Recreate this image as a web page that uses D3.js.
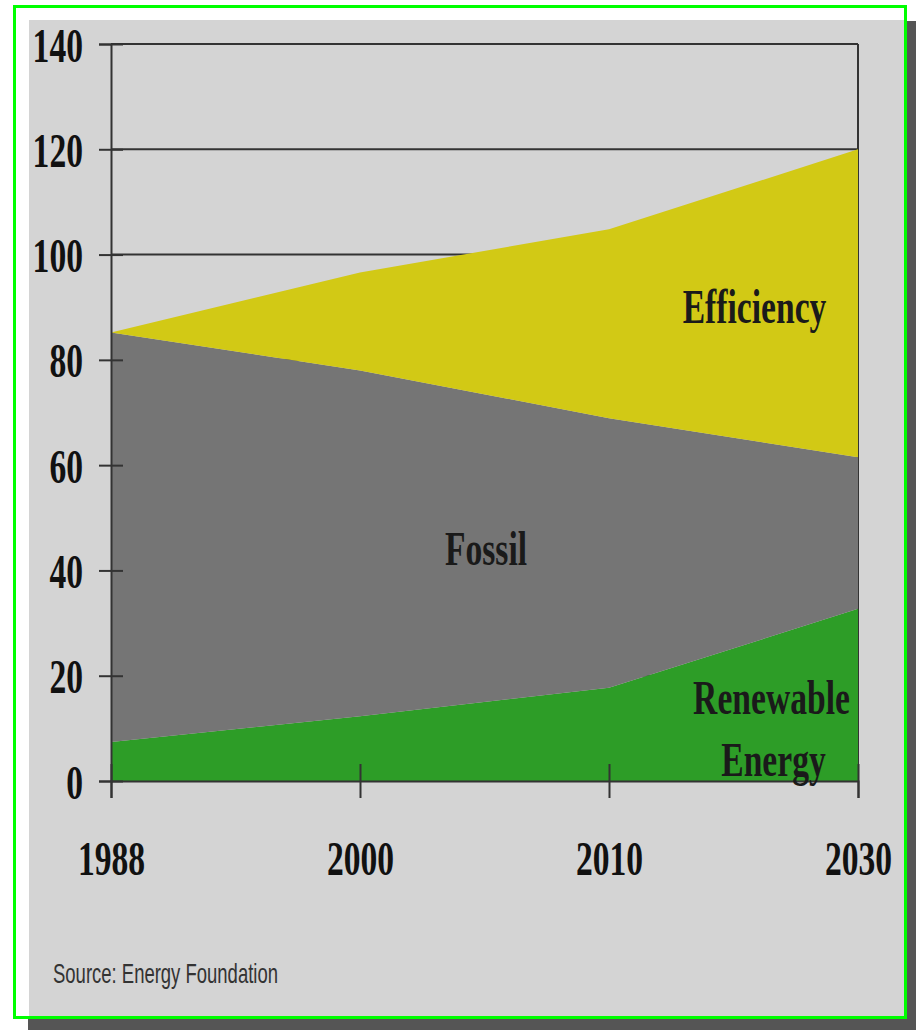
<!DOCTYPE html>
<html>
<head>
<meta charset="utf-8">
<script src="https://cdn.jsdelivr.net/npm/d3@7"></script>
<style>
  html, body { margin: 0; padding: 0; background: #ffffff; }
  svg { display: block; }
</style>
</head>
<body>
<div id="chart"></div>
<script>
// ---- data ----
const categories = ["1988", "2000", "2010", "2030"];
const renewable  = [7.4, 12.3, 17.7, 32.7];
const fossil     = [77.8, 65.7, 51.2, 28.8];
const efficiency = [0, 18.6, 35.9, 58.5];
const seriesKeys = ["renewable", "fossil", "efficiency"];
const yTicks     = [0, 20, 40, 60, 80, 100, 120, 140];
const sourceText = "Source: Energy Foundation";

// ---- layout ----
const W = 916, H = 1030;
const plot = { left: 111, right: 858, top: 44, bottom: 781 };
const colors = { renewable: "#2d9d27", fossil: "#757575", efficiency: "#d2c915" };

const svg = d3.select("#chart").append("svg").attr("width", W).attr("height", H);

// frame: shadow, panel, green border
svg.append("rect").attr("x", 28).attr("y", 21).attr("width", W - 28).attr("height", H - 21).attr("fill", "#555555");
svg.append("rect").attr("x", 0).attr("y", 0).attr("width", 907).attr("height", 1019).attr("fill", "#ffffff");
svg.append("rect").attr("x", 29).attr("y", 20).attr("width", 877).attr("height", 998).attr("fill", "#d4d4d4");
svg.append("rect").attr("x", 14.5).attr("y", 6.5).attr("width", 891).attr("height", 1011)
  .attr("fill", "none").attr("stroke", "#00ff00").attr("stroke-width", 3);

const table = categories.map((c, i) => ({
  cat: c, renewable: renewable[i], fossil: fossil[i], efficiency: efficiency[i]
}));

const x = d3.scalePoint().domain(categories).range([plot.left, plot.right]);
const y = d3.scaleLinear().domain([0, 140]).range([plot.bottom, plot.top]);

// gridlines
svg.append("g").selectAll("line").data(yTicks).join("line")
  .attr("x1", plot.left).attr("x2", plot.right)
  .attr("y1", d => y(d)).attr("y2", d => y(d))
  .attr("stroke", "#333").attr("stroke-width", 2);
// right plot border
svg.append("line").attr("x1", plot.right).attr("x2", plot.right)
  .attr("y1", plot.top).attr("y2", plot.bottom)
  .attr("stroke", "#333").attr("stroke-width", 2);

// stacked areas
const stacked = d3.stack().keys(seriesKeys)(table);
const area = d3.area()
  .x(d => x(d.data.cat))
  .y0(d => y(d[0]))
  .y1(d => y(d[1]));
svg.append("g").selectAll("path").data(stacked).join("path")
  .attr("d", area)
  .attr("fill", d => colors[d.key]);

// axes
const yAxis = d3.axisLeft(y).tickValues(yTicks).tickSize(12).tickPadding(17).tickFormat(d3.format("d"));
const gy = svg.append("g").attr("transform", `translate(${plot.left},0)`).call(yAxis);
gy.select(".domain").attr("stroke", "#333").attr("stroke-width", 2);
gy.selectAll(".tick line").attr("x1", 12).attr("x2", -12).attr("stroke", "#333").attr("stroke-width", 2);
gy.selectAll(".tick text")
  .attr("x", null).attr("dy", null)
  .attr("transform", "translate(-28,17) scale(0.7,1)")
  .attr("text-anchor", "end")
  .attr("fill", "#111")
  .style("font-family", "'Liberation Serif', 'Times New Roman', serif")
  .style("font-weight", "bold")
  .style("font-size", "48px");

const xAxis = d3.axisBottom(x).tickSize(17).tickPadding(0);
const gx = svg.append("g").attr("transform", `translate(0,${plot.bottom})`).call(xAxis);
gx.select(".domain").attr("stroke", "#333").attr("stroke-width", 2);
gx.selectAll(".tick line").attr("y1", -17).attr("y2", 17).attr("stroke", "#333").attr("stroke-width", 2);
gx.selectAll(".tick text")
  .attr("y", null).attr("dy", null)
  .attr("transform", "translate(0,94) scale(0.7,1)")
  .attr("text-anchor", "middle")
  .attr("fill", "#111")
  .style("font-family", "'Liberation Serif', 'Times New Roman', serif")
  .style("font-weight", "bold")
  .style("font-size", "48px");

// area labels
const labels = [
  { text: "Efficiency", x: 754.5, y: 323 },
  { text: "Fossil", x: 486, y: 565 },
  { text: "Renewable", x: 771.5, y: 714 },
  { text: "Energy", x: 773.5, y: 776 }
];
svg.append("g").selectAll("text").data(labels).join("text")
  .attr("transform", d => `translate(${d.x},${d.y}) scale(0.7,1)`)
  .attr("text-anchor", "middle")
  .attr("fill", "#1a1a1a")
  .style("font-family", "'Liberation Serif', 'Times New Roman', serif")
  .style("font-weight", "bold")
  .style("font-size", "48px")
  .text(d => d.text);

// source
svg.append("text")
  .attr("transform", "translate(53,983) scale(0.66,1)")
  .attr("fill", "#333")
  .style("font-family", "'Liberation Sans', Arial, sans-serif")
  .style("font-size", "28px")
  .text(sourceText);
</script>
</body>
</html>
